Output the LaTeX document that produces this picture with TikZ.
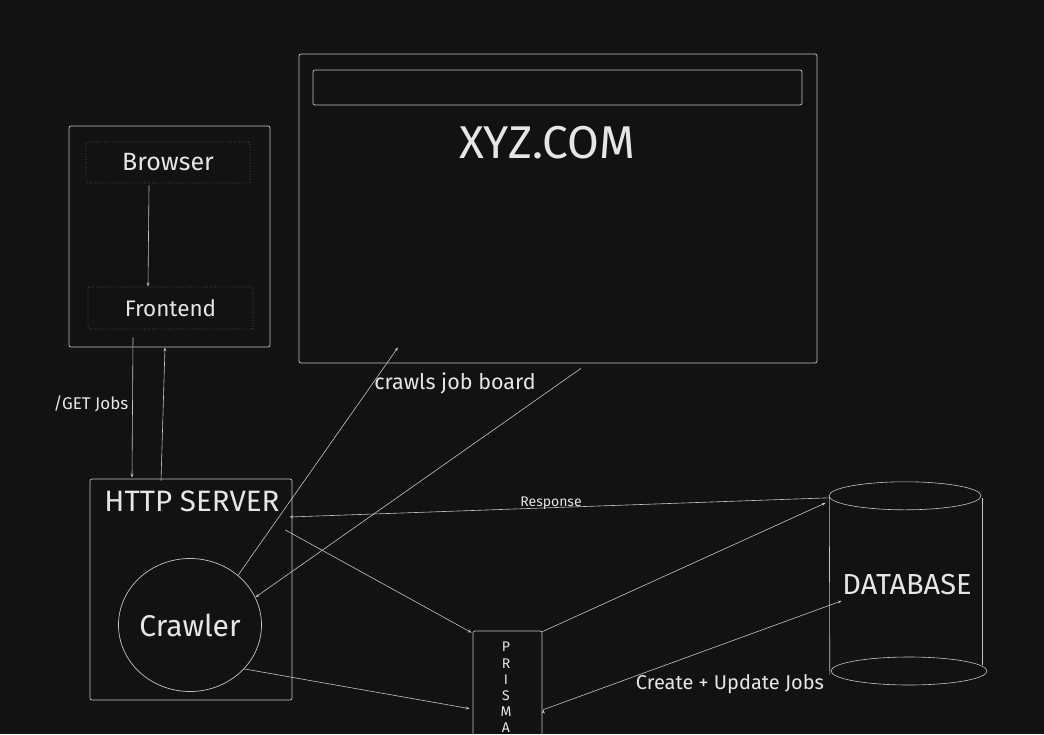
\documentclass[tikz,border=0pt]{standalone}
\usepackage{fontspec}
\setmainfont{Fira Sans}
\usepackage{xcolor}
\usetikzlibrary{arrows.meta,positioning,shapes.geometric}

\definecolor{bg}{HTML}{121212}
\definecolor{ink}{HTML}{C4C4C4}
\definecolor{txt}{HTML}{E6E6E6}
\definecolor{dots}{HTML}{5E5E5E}

\begin{document}
\begin{tikzpicture}[x=1pt,y=-1pt,>={Stealth[length=4pt,width=3pt]},
    box/.style={draw=ink,line width=.7pt,rounded corners=2pt,inner sep=0pt},
    part/.style={draw=dots,dotted,line width=.7pt,rounded corners=2pt,text=txt,inner sep=0pt},
    title/.style={text=txt,inner sep=0pt},
    note/.style={text=txt,inner sep=0pt,font=\fontsize{17}{20}\selectfont},
    link/.style={draw=ink,line width=.6pt}]
    \useasboundingbox (0,0) rectangle (1044,734);
    \clip (0,0) rectangle (1044,734);
    \fill[bg] (0,0) rectangle (1044,734);

    % client side
    \node[box, minimum width=201pt, minimum height=221pt] (client) at (169.5,236.5) {};
    \node[part, minimum width=164pt, minimum height=41pt,
        font=\fontsize{25}{30}\selectfont] (browser) at (168,162.5) {Browser};
    \node[part, minimum width=165pt, minimum height=42pt,
        font=\fontsize{22.5}{27}\selectfont] (frontend) at (170.5,308) {Frontend};

    % server and crawler
    \node[box, minimum width=202pt, minimum height=221pt] (server) at (191,589.5) {};
    \node[title, font=\fontsize{29.5}{35}\selectfont] (servername) at (192,501) {HTTP SERVER};
    \node[box, ellipse, minimum width=140pt, minimum height=133pt, text=txt,
        font=\fontsize{30}{36}\selectfont] (crawler) at (190,625) {Crawler};

    % job board
    \node[box, minimum width=518pt, minimum height=309pt] (site) at (558,208.5) {};
    \node[box, minimum width=489pt, minimum height=35pt] (urlbar) at (557.5,87.5) {};
    \node[title, font=\fontsize{46}{54}\selectfont] (sitename) at (547,143) {XYZ.COM};

    % orm and database
    \node[box, minimum width=69pt, minimum height=140pt] (prisma) at (507.5,701) {};
    \node[title, align=center, anchor=north, font=\fontsize{14}{16.2}\selectfont]
        (prismaname) at (506,642) {P\\R\\I\\S\\M\\A};
    \node[title, minimum width=153pt, minimum height=178pt,
        font=\fontsize{29}{34}\selectfont] (db) at (907,585) {DATABASE};
    \draw[link] ([xshift=-2pt]db.north) ellipse [x radius=76pt, y radius=14pt];
    \draw[link] ([xshift=2pt,yshift=-86pt]db.center) ellipse [x radius=78pt, y radius=14pt];
    \draw[link] ([xshift=-1pt,yshift=-1pt]db.north west) -- ([xshift=-.5pt,yshift=-179pt]db.north west);
    \draw[link] ([xshift=-1.5pt,yshift=-2pt]db.north east) -- ([xshift=-1.5pt,yshift=-169pt]db.north east);

    % connectors
    \path[link,->]
    ([xshift=-19pt,yshift=-2pt]browser.south) edge ([xshift=-22.5pt]frontend.north)
    ([xshift=-37.5pt,yshift=-8pt]frontend.south) edge ([xshift=-59pt,yshift=1pt]server.north)
    ([xshift=-30pt,yshift=-2pt]server.north) edge ([xshift=-4.5pt]client.south)
    (crawler.46) edge ([xshift=-160pt,yshift=16pt]site.south)
    ([xshift=23pt,yshift=-5pt]site.south) edge (crawler.23)
    ([xshift=-1pt,yshift=-2pt]db.north west) edge ([xshift=-3pt,yshift=72.5pt]server.east)
    ([xshift=-7pt,yshift=59.5pt]server.east) edge ([xshift=-1pt,yshift=-2pt]prisma.north west)
    (crawler.-39) edge ([xshift=-3pt,yshift=-78pt]prisma.north west)
    ([yshift=-1pt]prisma.north east) edge ([xshift=-4.5pt,yshift=-7pt]db.north west)
    ([xshift=1pt,yshift=-79pt]prisma.north east) edge ([xshift=11.5pt,yshift=-105pt]db.north west);

    % labels
    \node[note] (getjobs) at (91,404) {/GET Jobs};
    \node[note, font=\fontsize{21.5}{26}\selectfont] (crawls) at (455,383) {crawls job board};
    \node[note, font=\fontsize{14}{17}\selectfont] (response) at (551,503) {Response};
    \node[note, font=\fontsize{20}{24}\selectfont] (update) at (730,684) {Create + Update Jobs};

\end{tikzpicture}
\end{document}
